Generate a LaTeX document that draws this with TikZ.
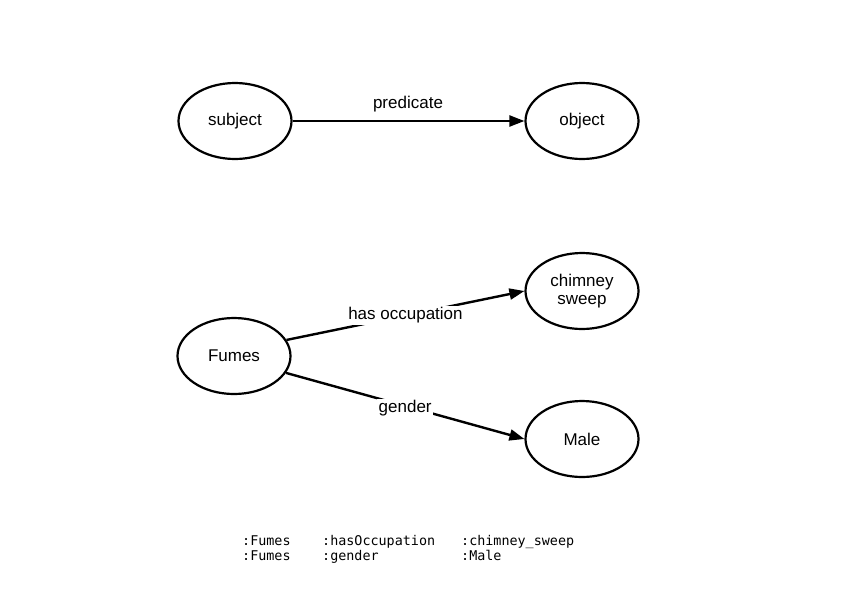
\documentclass[tikz,border=0pt]{standalone}
\usepackage{fontspec}
\setmainfont{Liberation Sans}
\newfontfamily\monofnt{DejaVu Sans Mono}
\usetikzlibrary{arrows.meta,shapes.geometric}
\begin{document}
\begin{tikzpicture}[x=1pt,y=-1pt,
  ent/.style={draw,line width=2.2pt,ellipse,minimum width=113pt,minimum height=76pt,inner sep=0pt,font=\fontsize{17}{19}\selectfont,align=center},
  rel/.style={line width=2.4pt,-{Triangle[length=15pt,width=11pt]}},
  lbl/.style={fill=white,inner sep=1.5pt,font=\fontsize{17}{19}\selectfont},
  code/.style={anchor=base west,inner sep=0pt,font=\monofnt\fontsize{13.4}{15}\selectfont}]
\useasboundingbox (0,0) rectangle (842,595);
\node[ent] (subj) at (235,121) {subject};
\node[ent] (obj) at (582,121) {object};
\node[ent] (fumes) at (234,356) {Fumes};
\node[ent] (sweep) at (582,291) {chimney\\[-1pt]sweep};
\node[ent] (male) at (582,439) {Male};
\draw[rel] (subj) -- (obj);
\node[font=\fontsize{17}{19}\selectfont] (pred) at (408,104) {predicate};
\draw[rel] (fumes.17) -- (sweep.west) node[lbl,pos=0.5] (occ) {has occupation};
\draw[rel] (fumes.-18) -- (male.west) node[lbl,pos=0.5,yshift=-2pt] (gen) {gender};
\node[code] (c11) at (242,545) {:Fumes};
\node[code] (c12) at (322,545) {:hasOccupation};
\node[code] (c13) at (461,545) {:chimney\_sweep};
\node[code] (c21) at (242,560) {:Fumes};
\node[code] (c22) at (322,560) {:gender};
\node[code] (c23) at (461,560) {:Male};
\end{tikzpicture}
\end{document}
